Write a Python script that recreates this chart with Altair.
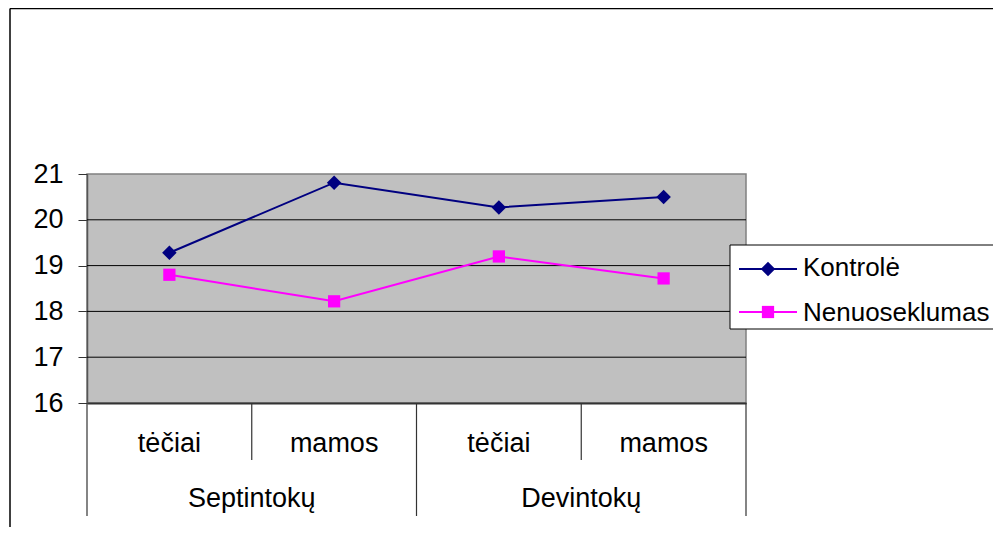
import altair as alt
import pandas as pd

# ---- data ----
categories = ["tėčiai", "mamos", "tėčiai", "mamos"]
category_groups = ["Septintokų", "Septintokų", "Devintokų", "Devintokų"]
series_names = ["Kontrolė", "Nenuoseklumas"]
kontrole = [19.28, 20.81, 20.27, 20.50]
nenuoseklumas = [18.80, 18.22, 19.20, 18.72]
y_ticks = [16, 17, 18, 19, 20, 21]
grid_values = [17, 18, 19, 20]

# ---- styles ----
series_colors = ["#000080", "#FF00FF"]
series_shapes = ["diamond", "square"]
series_sizes = [210, 150]
FONT = "Liberation Sans"
FS = 27
W, H = 659, 229
n = len(categories)

rows = []
for s, vals in zip(series_names, [kontrole, nenuoseklumas]):
    for i, (c, v) in enumerate(zip(categories, vals)):
        rows.append({"series": s, "slot": i, "category": c, "value": v})
df = pd.DataFrame(rows)

cat_df = pd.DataFrame({"slot": list(range(n)), "category": categories})

grp_rows = []
for g in dict.fromkeys(category_groups):
    idx = [i for i, gg in enumerate(category_groups) if gg == g]
    grp_rows.append({"group": g, "slot": sum(idx) / len(idx)})
grp_df = pd.DataFrame(grp_rows)

div_rows = []
for b in range(n + 1):
    long = b == 0 or b == n or category_groups[b - 1] != category_groups[b]
    div_rows.append({"pos": b - 0.5, "long": long})
div_df = pd.DataFrame(div_rows)

grid_df = pd.DataFrame({"value": grid_values})
one = pd.DataFrame({"k": [0]})

xscale = alt.Scale(domain=[-0.5, n - 0.5], nice=False, zero=False)
yscale = alt.Scale(domain=[16, 21], nice=False, zero=False)

xaxis = alt.Axis(labels=False, ticks=False, grid=False, title=None,
                 domainColor="#333", domainWidth=2)
yaxis = alt.Axis(values=y_ticks, grid=False, tickSize=9, labelPadding=15,
                 labelFontSize=FS, labelFont=FONT, labelColor="black",
                 tickColor="#333", domainColor="#555", domainWidth=1.5,
                 title=None, format="d")


def X(field):
    return alt.X(field, scale=xscale, axis=xaxis)


def Y(field):
    return alt.Y(field, scale=yscale, axis=yaxis)


grid = alt.Chart(grid_df).mark_rule(color="black", strokeWidth=1).encode(y=Y("value:Q"))

color = alt.Color("series:N", scale=alt.Scale(domain=series_names, range=series_colors), legend=None)

lines = alt.Chart(df).mark_line(strokeWidth=2).encode(
    x=X("slot:Q"), y=Y("value:Q"), color=color, detail="series:N",
)

points = alt.Chart(df).mark_point(filled=True, opacity=1).encode(
    x=X("slot:Q"), y=Y("value:Q"),
    color=color,
    shape=alt.Shape("series:N", scale=alt.Scale(domain=series_names, range=series_shapes), legend=None),
    size=alt.Size("series:N", scale=alt.Scale(domain=series_names, range=series_sizes), legend=None),
)

cat_text = alt.Chart(cat_df).mark_text(baseline="alphabetic", align="center", fontSize=FS, font=FONT, color="black").encode(
    x=X("slot:Q"), y=alt.value(278), text="category:N"
)
grp_text = alt.Chart(grp_df).mark_text(baseline="alphabetic", align="center", fontSize=FS, font=FONT, color="black").encode(
    x=X("slot:Q"), y=alt.value(333), text="group:N"
)

div_short = alt.Chart(div_df).transform_filter("!datum.long").mark_rule(color="#333", strokeWidth=1.2).encode(
    x=X("pos:Q"), y=alt.value(H), y2=alt.value(286)
)
div_long = alt.Chart(div_df).transform_filter("datum.long").mark_rule(color="#333", strokeWidth=1.2).encode(
    x=X("pos:Q"), y=alt.value(H), y2=alt.value(342)
)

border_left = alt.Chart(one).mark_rule(color="black", strokeWidth=1.5).encode(
    x=alt.value(-77), y=alt.value(-165.5), y2=alt.value(H + 130)
)
border_top = alt.Chart(one).mark_rule(color="black", strokeWidth=1.5).encode(
    x=alt.value(-77), x2=alt.value(W + 300), y=alt.value(-165.5)
)

legend_box = alt.Chart(one).mark_rect(fill="white", stroke="black", strokeWidth=1).encode(
    x=alt.value(643), x2=alt.value(W + 300), y=alt.value(71), y2=alt.value(155)
)

legend_layers = [legend_box]
leg_line_y = [95, 138]
leg_text_y = [102, 147]
for i, name in enumerate(series_names):
    legend_layers.append(alt.Chart(one).mark_rule(color=series_colors[i], strokeWidth=2).encode(
        x=alt.value(652), x2=alt.value(710), y=alt.value(leg_line_y[i])))
    legend_layers.append(alt.Chart(one).mark_point(filled=True, opacity=1, shape=series_shapes[i],
                                                   size=series_sizes[i], color=series_colors[i]).encode(
        x=alt.value(681), y=alt.value(leg_line_y[i])))
    legend_layers.append(alt.Chart(one).mark_text(align="left", baseline="alphabetic", fontSize=26,
                                                  font=FONT, color="black", text=name).encode(
        x=alt.value(716), y=alt.value(leg_text_y[i])))

chart = alt.layer(
    grid, lines, points, cat_text, grp_text, div_short, div_long,
    border_left, border_top, *legend_layers
).properties(
    width=W, height=H,
    padding={"left": 79, "top": 166, "right": 247, "bottom": 124},
    autosize=alt.AutoSizeParams(type="none"),
    background="white",
).configure_view(
    fill="#C0C0C0", stroke="#808080", strokeWidth=1.5
)

chart.save("out.html", embed_options={"renderer": "svg", "actions": False})
